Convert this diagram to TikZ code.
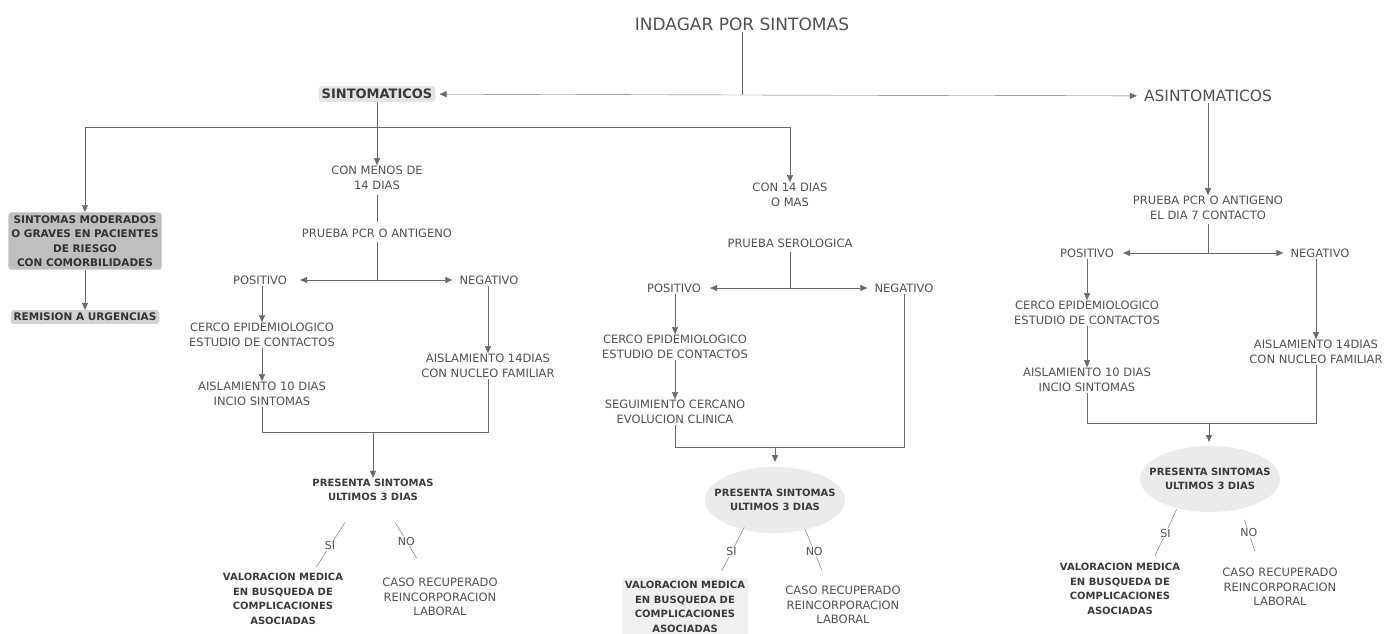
\documentclass[tikz,border=0pt]{standalone}
\usepackage{fontspec}
\setmainfont{DejaVu Sans}
\usetikzlibrary{arrows.meta,backgrounds}
\definecolor{txtgray}{HTML}{505050}
\definecolor{darkgray}{HTML}{3A3A3A}
\definecolor{lingray}{HTML}{6A6A6A}
\tikzset{
  texto/.style={font=\fontsize{11.5}{14.5}\selectfont, text=txtgray, align=center, inner sep=1pt},
  negrita/.style={font=\fontsize{10}{14.5}\selectfont\bfseries, text=darkgray, align=center, inner sep=1pt},
  linea/.style={draw=lingray},
  flecha/.style={draw=lingray, -{Triangle[width=6pt,length=7pt]}},
  etiqueta/.style={fill=white, inner sep=1pt, font=\fontsize{11}{12}\selectfont, text=txtgray},
  caja/.style={rounded corners=3pt, inner sep=3pt}
}
\begin{document}
\begin{tikzpicture}[x=1pt,y=-1pt]
            \useasboundingbox (0,0) rectangle (1384,633);

            % Top
            \node[texto, font=\fontsize{17}{20}\selectfont] (indagar) at (742,24) {INDAGAR POR SINTOMAS};
            \node[negrita, caja, fill=gray!22, font=\fontsize{13}{15}\selectfont\bfseries] (sint) at (377,94) {SINTOMATICOS};
            \node[texto, font=\fontsize{15.5}{18}\selectfont] (asint) at (1208,96) {ASINTOMATICOS};
            \coordinate (top) at (742,95);
            \draw[linea] (indagar) -- (top);
            \draw[flecha, shorten >=4pt] (top) -- (sint);
            \draw[flecha, shorten >=6pt] (top) -- (asint);

            % Sintomaticos branches
            \coordinate (brL) at (85,127);
            \coordinate (brR) at (790,127);
            \draw[linea] (brL) -- (brR);
            \node[negrita, caja, fill=gray!50, text=black!80, font=\fontsize{10.5}{14.5}\selectfont\bfseries] (moder) at (85,241) {SINTOMAS MODERADOS\\O GRAVES EN PACIENTES\\DE RIESGO\\CON COMORBILIDADES};
            \node[negrita, caja, fill=gray!35, text=black!80, font=\fontsize{10.5}{13}\selectfont\bfseries] (remis) at (85,317) {REMISION A URGENCIAS};
            \draw[flecha] (brL) -- (moder);
            \draw[flecha] (moder) -- (remis);

            % Con menos de 14 dias
            \node[texto] (menos) at (377,178) {CON MENOS DE\\14 DIAS};
            \draw[flecha] (sint) -- (menos);
            \node[texto] (pcr1) at (377,233) {PRUEBA PCR O ANTIGENO};
            \draw[linea, shorten <=4pt, shorten >=5pt] (menos) -- (pcr1);
            \coordinate (j1) at (377,280);
            \node[texto] (pos1) at (260,280) {POSITIVO};
            \node[texto] (neg1) at (489,280) {NEGATIVO};
            \draw[linea, shorten <=3pt] (pcr1) -- (j1);
            \draw[flecha, shorten >=12pt] (j1) -- (pos1);
            \draw[flecha, shorten >=6pt] (j1) -- (neg1);
            \node[texto] (cerco1) at (262,335) {CERCO EPIDEMIOLOGICO\\ESTUDIO DE CONTACTOS};
            \node[texto] (aisl10a) at (262,394) {AISLAMIENTO 10 DIAS\\INCIO SINTOMAS};
            \node[texto] (aisl14a) at (488,366) {AISLAMIENTO 14DIAS\\CON NUCLEO FAMILIAR};
            \draw[flecha] (pos1.south -| cerco1) -- (cerco1);
            \draw[flecha] (cerco1) -- (aisl10a);
            \draw[flecha] (neg1.south -| aisl14a) -- (aisl14a);
            \coordinate (m1) at (373,432);
            \draw[linea] (aisl10a) |- (m1) -| (aisl14a);
            \node[negrita] (pres1) at (373,490) {PRESENTA SINTOMAS\\ULTIMOS 3 DIAS};
            \draw[flecha] (m1) -- (pres1);
            \node[negrita] (val1) at (283,599) {VALORACION MEDICA\\EN BUSQUEDA DE\\COMPLICACIONES\\ASOCIADAS};
            \node[texto] (caso1) at (440,597) {CASO RECUPERADO\\REINCORPORACION\\LABORAL};
            \draw[linea, shorten <=24pt, shorten >=6pt] ([xshift=-15pt]pres1.south) -- ([xshift=30pt]val1.north) node[etiqueta, pos=0.62] {SI};
            \draw[linea, shorten <=24pt, shorten >=22pt] ([xshift=10pt]pres1.south) -- ([xshift=-12pt]caso1.north) node[etiqueta, pos=0.52] {NO};

            % Con 14 dias o mas
            \node[texto] (mas) at (790,195) {CON 14 DIAS\\O MAS};
            \draw[flecha] (brR) -- (mas);
            \node[texto] (sero) at (790,243) {PRUEBA SEROLOGICA};
            \coordinate (j2) at (790,288);
            \node[texto] (pos2) at (674,288) {POSITIVO};
            \node[texto] (neg2) at (904,288) {NEGATIVO};
            \draw[linea, shorten <=3pt] (sero) -- (j2);
            \draw[flecha, shorten >=8pt] (j2) -- (pos2);
            \draw[flecha, shorten >=6pt] (j2) -- (neg2);
            \node[texto] (cerco2) at (675,347) {CERCO EPIDEMIOLOGICO\\ESTUDIO DE CONTACTOS};
            \node[texto] (seg2) at (675,412) {SEGUIMIENTO CERCANO\\EVOLUCION CLINICA};
            \draw[flecha] (pos2.south -| cerco2) -- (cerco2);
            \draw[flecha] (cerco2) -- (seg2);
            \coordinate (m2) at (775,447);
            \draw[linea] (seg2) |- (m2) -| (neg2);
            \node[negrita] (pres2) at (775,500) {PRESENTA SINTOMAS\\ULTIMOS 3 DIAS};
            \draw[flecha] (m2) -- ++(0,15);
            \node[negrita, fill=yellow!6!gray!14, inner sep=3pt] (val2) at (685,607) {VALORACION MEDICA\\EN BUSQUEDA DE\\COMPLICACIONES\\ASOCIADAS};
            \node[texto] (caso2) at (843,605) {CASO RECUPERADO\\REINCORPORACION\\LABORAL};
            \draw[linea, shorten <=17pt, shorten >=8pt] ([xshift=-23pt]pres2.south) -- ([xshift=33pt]val2.north) node[etiqueta, pos=0.6] {SI};
            \draw[linea, shorten <=18pt, shorten >=15pt] ([xshift=23pt]pres2.south) -- ([xshift=-15pt]caso2.north) node[etiqueta, pos=0.54] {NO};

            % Asintomaticos
            \node[texto] (pcr3) at (1208,208) {PRUEBA PCR O ANTIGENO\\EL DIA 7 CONTACTO};
            \draw[flecha] (asint) -- (pcr3);
            \coordinate (j3) at (1208,253);
            \node[texto] (pos3) at (1087,253) {POSITIVO};
            \node[texto] (neg3) at (1320,253) {NEGATIVO};
            \draw[linea, shorten <=3pt] (pcr3) -- (j3);
            \draw[flecha, shorten >=8pt] (j3) -- (pos3);
            \draw[flecha, shorten >=6pt] (j3) -- (neg3);
            \node[texto] (cerco3) at (1087,313) {CERCO EPIDEMIOLOGICO\\ESTUDIO DE CONTACTOS};
            \node[texto] (aisl10c) at (1087,380) {AISLAMIENTO 10 DIAS\\INCIO SINTOMAS};
            \node[texto] (aisl14c) at (1316,352) {AISLAMIENTO 14DIAS\\CON NUCLEO FAMILIAR};
            \draw[flecha] (pos3) -- (cerco3);
            \draw[flecha] (cerco3) -- (aisl10c);
            \draw[flecha] (neg3.south -| aisl14c) -- (aisl14c);
            \coordinate (m3) at (1209,423);
            \draw[linea] (aisl10c) |- (m3) -| (aisl14c);
            \node[negrita] (pres3) at (1210,479) {PRESENTA SINTOMAS\\ULTIMOS 3 DIAS};
            \draw[flecha] (m3) -- ++(0,19);
            \node[negrita] (val3) at (1120,589) {VALORACION MEDICA\\EN BUSQUEDA DE\\COMPLICACIONES\\ASOCIADAS};
            \node[texto] (caso3) at (1280,587) {CASO RECUPERADO\\REINCORPORACION\\LABORAL};
            \draw[linea, shorten <=20pt, shorten >=7pt] ([xshift=-25pt]pres3.south) -- ([xshift=32pt]val3.north) node[etiqueta, pos=0.59] {SI};
            \draw[linea, shorten <=30pt, shorten >=17pt] ([xshift=25pt]pres3.south) -- ([xshift=-20pt]caso3.north) node[etiqueta, pos=0.55] {NO};

            % Shading behind
            \begin{scope}[on background layer]
              \fill[gray!16] (pres2.center) ellipse [x radius=70, y radius=33];
              \fill[gray!16] (pres3.center) ellipse [x radius=70, y radius=33];
            \end{scope}
        \end{tikzpicture}
\end{document}
